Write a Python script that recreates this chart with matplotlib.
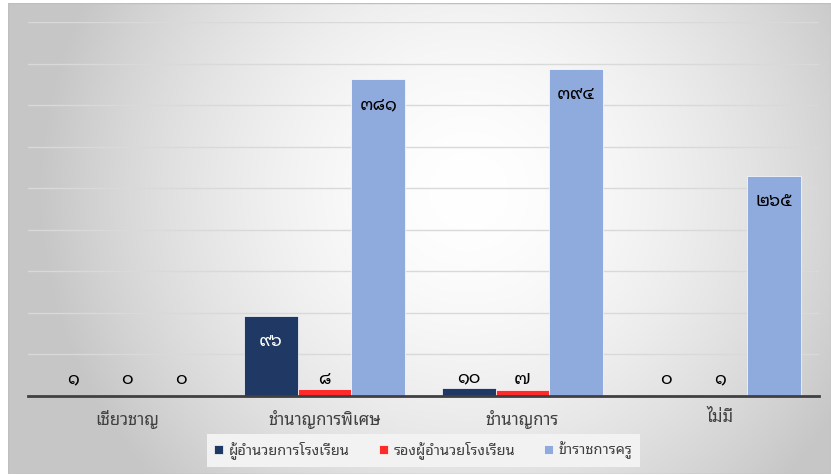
import numpy as np
import matplotlib
matplotlib.use('Agg')
import matplotlib.pyplot as plt
from matplotlib.patches import Rectangle

plt.rcParams['font.family'] = ['Noto Sans Thai Looped', 'Noto Sans Thai', 'DejaVu Sans']

# Data
categories = ['เชี่ยวชาญ', 'ชำนาญการพิเศษ', 'ชำนาญการ', 'ไม่มี']
series_names = ['ผู้อำนวยการโรงเรียน', 'รองผู้อำนวยโรงเรียน', 'ข้าราชการครู']
director = [1, 96, 10, 0]
deputy = [0, 8, 7, 1]
teacher = [0, 381, 394, 265]
thai_digits = str.maketrans('0123456789', '๐๑๒๓๔๕๖๗๘๙')

series = [director, deputy, teacher]
colors = ['#1F3864', '#FF2B2B', '#8FAADC']
label_colors = ['white', 'black', 'black']

W, H = 831, 475
fig = plt.figure(figsize=(W / 100, H / 100), dpi=100)

# gradient background of the chart area
bg = fig.add_axes([8 / W, 1 / H, 823 / W, 471 / H])
u, v = np.meshgrid(np.linspace(0, 1, 400), np.linspace(0, 1, 240))
d = np.sqrt(((u - 0.56) / 0.52) ** 2 + ((v - 0.4) / 0.9) ** 2)
g = 1 - 0.22 * np.clip(d, 0, 1) ** 1.7
bg.imshow(np.dstack([g, g, g]), aspect='auto', extent=[0, 1, 0, 1], interpolation='bilinear')
bg.add_patch(Rectangle((0, 0), 1, 1, transform=bg.transAxes, fill=False,
                       edgecolor='#BFBFBF', lw=1))
bg.set_axis_off()

ax = fig.add_axes([28 / W, 79 / H, 791 / W, 374 / H])
ax.patch.set_alpha(0)
x = np.arange(len(categories))
w = 0.2716
for i, (vals, col, lc, name) in enumerate(zip(series, colors, label_colors, series_names)):
    xs = x + (i - 1) * w
    ax.bar(xs, vals, width=w, color=col, edgecolor='white', linewidth=0.5,
           label=name, zorder=3)
    for xi, val in zip(xs, vals):
        if val > 50:
            ax.text(xi, val - 30, str(val).translate(thai_digits), ha='center', va='center',
                    color=lc, fontsize=13, fontweight='bold', zorder=4)
        else:
            ax.text(xi, max(val, 8) + 13, str(val).translate(thai_digits), ha='center',
                    va='center', color='black', fontsize=13, fontweight='bold', zorder=4)

ax.set_xlim(-0.5, len(categories) - 0.5)
ax.set_ylim(0, 450)
ax.set_yticks(np.arange(50, 451, 50))
ax.yaxis.grid(True, color='#D9D9D9', lw=1, zorder=0)
ax.tick_params(axis='y', length=0, labelleft=False)
ax.set_xticks(x)
ax.set_xticklabels(categories, fontsize=12, color='#404040')
ax.tick_params(axis='x', length=0, pad=10)
for s in ['top', 'right', 'left']:
    ax.spines[s].set_visible(False)
ax.spines['bottom'].set_color('#404040')
ax.spines['bottom'].set_linewidth(2)
ax.spines['bottom'].set_zorder(5)

leg = fig.legend(loc='center', bbox_to_anchor=(423.5 / W, 24.5 / H), ncol=3,
                 frameon=True, fancybox=False, facecolor='#F2F2F2', edgecolor='none',
                 framealpha=1, fontsize=10.5, handlelength=0.6, handleheight=0.6,
                 handletextpad=0.4, columnspacing=2.0, borderpad=0.5)
for t in leg.get_texts():
    t.set_color('#404040')

fig.savefig('out.png', dpi=100)
